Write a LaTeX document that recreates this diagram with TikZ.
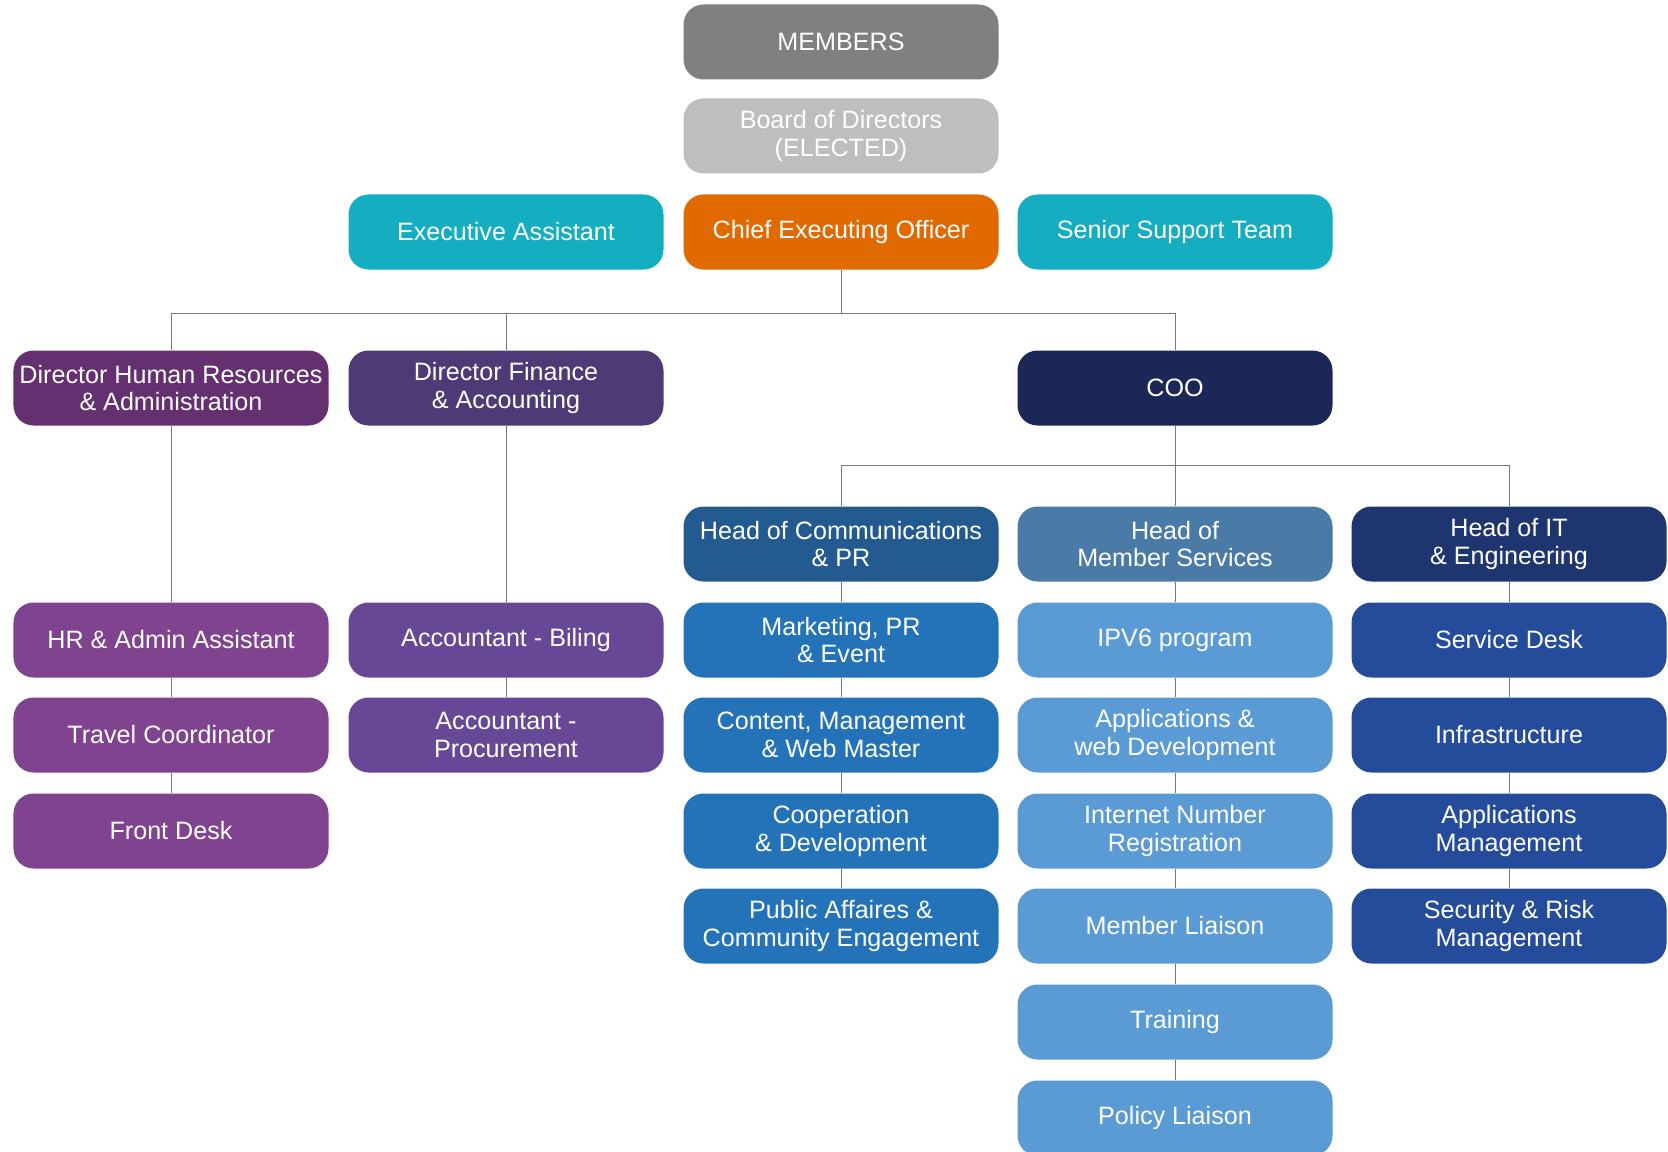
\documentclass[tikz,border=0pt]{standalone}
\usepackage{fontspec}
\setmainfont{Liberation Sans}
\usepackage{tikz}

\definecolor{membersgray}{RGB}{128,128,128}
\definecolor{boardgray}{RGB}{190,190,190}
\definecolor{teal}{RGB}{20,174,192}
\definecolor{ceoorange}{RGB}{224,106,0}
\definecolor{hrdir}{RGB}{100,48,112}
\definecolor{findir}{RGB}{79,58,120}
\definecolor{hrstaff}{RGB}{128,67,143}
\definecolor{finstaff}{RGB}{103,72,150}
\definecolor{coonavy}{RGB}{27,39,87}
\definecolor{commhead}{RGB}{35,90,143}
\definecolor{memhead}{RGB}{74,122,166}
\definecolor{ithead}{RGB}{31,53,112}
\definecolor{commstaff}{RGB}{36,115,185}
\definecolor{memstaff}{RGB}{90,154,213}
\definecolor{itstaff}{RGB}{36,76,154}
\definecolor{linegray}{RGB}{120,120,120}

\tikzset{
  box/.style={rectangle, rounded corners=4mm, minimum width=63mm, minimum height=15mm,
    inner sep=0pt, align=center, text=white, font=\fontsize{14.3}{15.7}\selectfont},
  link/.style={draw=linegray, line width=0.2mm}
}

\begin{document}
\begin{tikzpicture}[x=0.2mm,y=-0.2mm]
\useasboundingbox (0,0) rectangle (1668,1152);

% top
\node[box, fill=membersgray] (members) at (841,42) {MEMBERS};
\node[box, fill=boardgray] (board) at (841,136) {Board of Directors\\(ELECTED)};
\node[box, fill=teal] (execassist) at (506,232) {Executive Assistant};
\node[box, fill=ceoorange] (ceo) at (841,232) {Chief Executing Officer};
\node[box, fill=teal] (senior) at (1175,232) {Senior Support Team};

% directors
\node[box, fill=hrdir] (hrdir) at (171,388) {Director Human Resources\\\& Administration};
\node[box, fill=findir] (findir) at (506,388) {Director Finance\\\& Accounting};
\node[box, fill=coonavy] (coo) at (1175,388) {COO};

% HR and finance staff
\node[box, fill=hrstaff] (hrassist) at (171,640) {HR \& Admin Assistant};
\node[box, fill=hrstaff] (travel) at (171,735) {Travel Coordinator};
\node[box, fill=hrstaff] (frontdesk) at (171,831) {Front Desk};
\node[box, fill=finstaff] (billing) at (506,640) {Accountant - Biling};
\node[box, fill=finstaff] (procure) at (506,735) {Accountant -\\Procurement};

% heads under COO
\node[box, fill=commhead] (commhead) at (841,544) {Head of Communications\\\& PR};
\node[box, fill=memhead] (memhead) at (1175,544) {Head of\\Member Services};
\node[box, fill=ithead] (ithead) at (1509,544) {Head of IT\\\& Engineering};

% communications
\node[box, fill=commstaff] (marketing) at (841,640) {Marketing, PR\\\& Event};
\node[box, fill=commstaff] (content) at (841,735) {Content, Management\\\& Web Master};
\node[box, fill=commstaff] (coop) at (841,831) {Cooperation\\\& Development};
\node[box, fill=commstaff] (public) at (841,926) {Public Affaires \&\\Community Engagement};

% member services
\node[box, fill=memstaff] (ipv6) at (1175,640) {IPV6 program};
\node[box, fill=memstaff] (appsweb) at (1175,735) {Applications \&\\web Development};
\node[box, fill=memstaff] (inr) at (1175,831) {Internet Number\\Registration};
\node[box, fill=memstaff] (liaison) at (1175,926) {Member Liaison};
\node[box, fill=memstaff] (training) at (1175,1022) {Training};
\node[box, fill=memstaff] (policy) at (1175,1118) {Policy Liaison};

% IT
\node[box, fill=itstaff] (servicedesk) at (1509,640) {Service Desk};
\node[box, fill=itstaff] (infra) at (1509,735) {Infrastructure};
\node[box, fill=itstaff] (appsmgmt) at (1509,831) {Applications\\Management};
\node[box, fill=itstaff] (security) at (1509,926) {Security \& Risk\\Management};

% connectors
\coordinate (ceobus) at (0,313);
\coordinate (coobus) at (0,465);
\draw[link] (ceo.south) -- (ceo.south |- ceobus);
\draw[link] (hrdir.north) -- (hrdir.north |- ceobus) -| (coo.north);
\draw[link] (findir.north) -- (findir.north |- ceobus);

\draw[link] (coo.south) -- (memhead.north);
\draw[link] (commhead.north) -- (commhead.north |- coobus) -| (ithead.north);

\draw[link] (hrdir.south) -- (hrassist.north);
\draw[link] (hrassist.south) -- (travel.north);
\draw[link] (travel.south) -- (frontdesk.north);
\draw[link] (findir.south) -- (billing.north);
\draw[link] (billing.south) -- (procure.north);

\draw[link] (commhead.south) -- (marketing.north);
\draw[link] (marketing.south) -- (content.north);
\draw[link] (content.south) -- (coop.north);
\draw[link] (coop.south) -- (public.north);

\draw[link] (memhead.south) -- (ipv6.north);
\draw[link] (ipv6.south) -- (appsweb.north);
\draw[link] (appsweb.south) -- (inr.north);
\draw[link] (inr.south) -- (liaison.north);
\draw[link] (liaison.south) -- (training.north);
\draw[link] (training.south) -- (policy.north);

\draw[link] (ithead.south) -- (servicedesk.north);
\draw[link] (servicedesk.south) -- (infra.north);
\draw[link] (infra.south) -- (appsmgmt.north);
\draw[link] (appsmgmt.south) -- (security.north);
\end{tikzpicture}
\end{document}
